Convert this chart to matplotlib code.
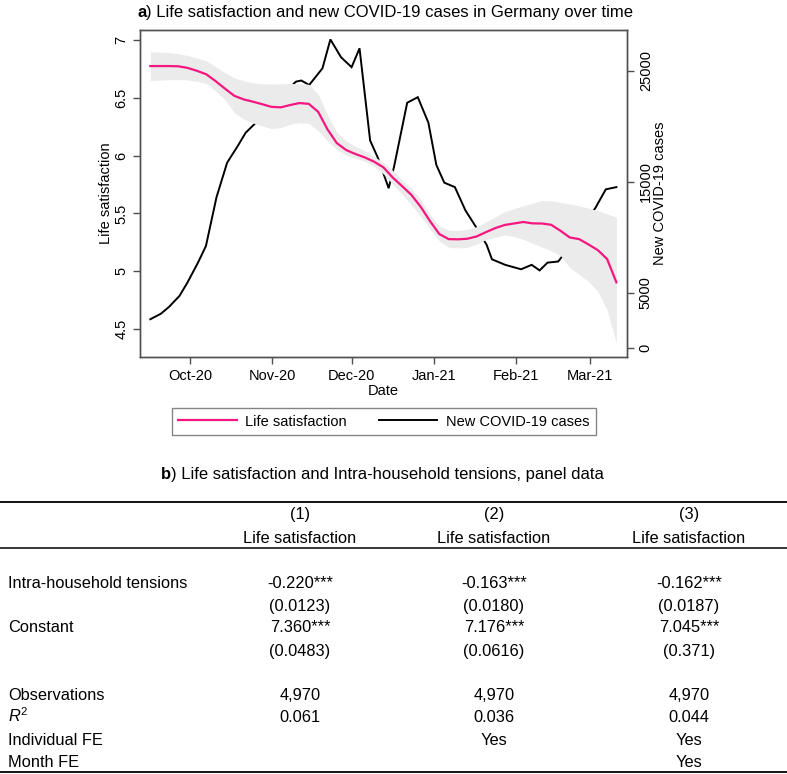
import matplotlib
matplotlib.use('Agg')
import matplotlib.pyplot as plt
import matplotlib.dates as mdates
from matplotlib.lines import Line2D
import pandas as pd

plt.rcParams['font.family'] = ['Liberation Sans', 'DejaVu Sans']
plt.rcParams['mathtext.fontset'] = 'custom'
plt.rcParams['mathtext.rm'] = 'Liberation Sans'
plt.rcParams['mathtext.it'] = 'Liberation Sans:italic'

# ---- panel a: life satisfaction (twice-weekly) with confidence band ----
ls_dates = pd.date_range('2020-09-16', '2021-03-11', periods=51)
ls_mean = [6.775, 6.775, 6.775, 6.773, 6.759, 6.734, 6.704, 6.645, 6.580, 6.518,
           6.487, 6.467, 6.445, 6.422, 6.418, 6.438, 6.455, 6.448, 6.380, 6.228,
           6.109, 6.049, 6.014, 5.985, 5.948, 5.899, 5.811, 5.737, 5.661, 5.558,
           5.434, 5.322, 5.278, 5.276, 5.281, 5.301, 5.338, 5.373, 5.400, 5.413,
           5.426, 5.414, 5.413, 5.402, 5.350, 5.292, 5.278, 5.232, 5.183, 5.106,
           4.904]
ls_upper = [6.899, 6.895, 6.892, 6.882, 6.866, 6.844, 6.820, 6.770, 6.719, 6.673,
            6.648, 6.631, 6.622, 6.619, 6.621, 6.625, 6.622, 6.618, 6.533, 6.353,
            6.202, 6.127, 6.081, 6.042, 5.993, 5.941, 5.872, 5.792, 5.715, 5.622,
            5.491, 5.392, 5.356, 5.352, 5.362, 5.386, 5.427, 5.470, 5.515, 5.542,
            5.566, 5.587, 5.614, 5.610, 5.595, 5.582, 5.567, 5.546, 5.524, 5.494,
            5.469]
ls_lower = [6.648, 6.653, 6.657, 6.658, 6.655, 6.643, 6.626, 6.560, 6.484, 6.374,
            6.317, 6.282, 6.258, 6.233, 6.244, 6.273, 6.285, 6.279, 6.216, 6.128,
            6.055, 6.005, 5.976, 5.952, 5.907, 5.842, 5.753, 5.667, 5.575, 5.475,
            5.368, 5.263, 5.206, 5.201, 5.207, 5.234, 5.274, 5.294, 5.313, 5.301,
            5.276, 5.243, 5.210, 5.177, 5.136, 5.029, 4.975, 4.913, 4.827, 4.663,
            4.379]

# ---- panel a: new COVID-19 cases ----
case_dates = pd.to_datetime([
    '2020-09-16', '2020-09-20', '2020-09-23', '2020-09-27', '2020-09-30',
    '2020-10-04', '2020-10-07', '2020-10-11', '2020-10-15', '2020-10-19',
    '2020-10-22', '2020-10-25', '2020-10-29', '2020-11-02', '2020-11-06',
    '2020-11-10', '2020-11-12', '2020-11-15', '2020-11-20', '2020-11-23',
    '2020-11-27', '2020-12-01', '2020-12-04', '2020-12-08', '2020-12-11',
    '2020-12-15', '2020-12-17', '2020-12-22', '2020-12-26', '2020-12-30',
    '2021-01-02', '2021-01-05', '2021-01-09', '2021-01-13', '2021-01-17',
    '2021-01-21', '2021-01-23', '2021-01-28', '2021-02-03', '2021-02-07',
    '2021-02-10', '2021-02-13', '2021-02-17', '2021-02-22', '2021-02-26',
    '2021-03-03', '2021-03-07', '2021-03-11'])
new_cases = [2600, 3100, 3700, 4700, 5900, 7700, 9200, 13600, 16700, 18200,
             19400, 20100, 21000, 22100, 23100, 24000, 24100, 23700, 25200, 27800,
             26200, 25300, 27000, 18700, 17100, 14400, 16300, 22100, 22600, 20300,
             16500, 14900, 14500, 12400, 10900, 9300, 8000, 7500, 7100, 7500,
             7000, 7700, 7800, 9300, 10900, 12600, 14300, 14500]

# ---- panel b: regression table ----
col_heads = ['(1)', '(2)', '(3)']
dep_var = 'Life satisfaction'
coef_tensions = ['-0.220***', '-0.163***', '-0.162***']
se_tensions = ['0.0123', '0.0180', '0.0187']
coef_const = ['7.360***', '7.176***', '7.045***']
se_const = ['0.0483', '0.0616', '0.371']
n_obs = ['4,970', '4,970', '4,970']
r_squared = ['0.061', '0.036', '0.044']
individual_fe = ['', 'Yes', 'Yes']
month_fe = ['', '', 'Yes']

W, H = 787, 774
fig = plt.figure(figsize=(W / 100, H / 100), dpi=100)

def fx(px):
    return px / W

def fy(py):
    return 1 - py / H

pink = '#f5167f'
frame = '#505050'

ax = fig.add_axes([fx(140), fy(357), fx(627) - fx(140), fy(30) - fy(357)])
ax2 = ax.twinx()
ax.set_zorder(2)
ax.patch.set_visible(False)

ax2.plot(case_dates, new_cases, color='black', lw=1.4, solid_joinstyle='miter')
ax.fill_between(ls_dates, ls_lower, ls_upper, color='#ebebeb', lw=0)
ax.plot(ls_dates, ls_mean, color=pink, lw=1.6)

ax.set_xlim(pd.Timestamp('2020-10-01') - pd.Timedelta(days=18.9),
            pd.Timestamp('2021-03-01') + pd.Timedelta(days=14))
ax.set_ylim(4.258, 7.087)
ax2.set_ylim(-800, 28650)

ax.set_yticks([4.5, 5, 5.5, 6, 6.5, 7])
ax.set_yticklabels(['4.5', '5', '5.5', '6', '6.5', '7'])
ax2.set_yticks([0, 5000, 15000, 25000])
ax.xaxis.set_major_locator(mdates.MonthLocator())
ax.xaxis.set_major_formatter(mdates.DateFormatter('%b-%y'))

for a in (ax, ax2):
    for s in a.spines.values():
        s.set_color(frame)
        s.set_linewidth(1.0)
    a.tick_params(colors=frame, labelcolor='black', direction='out', length=5,
                  width=1.0, labelsize=10.5)
ax.tick_params(axis='y', labelrotation=90)
ax2.tick_params(axis='y', labelrotation=90)
for lab in ax.get_yticklabels() + ax2.get_yticklabels():
    lab.set_va('center')

ax.set_ylabel('Life satisfaction', fontsize=10.5)
ax.yaxis.set_label_coords((113 - 140) / 487, 0.5)
ax2.set_ylabel('New COVID-19 cases', fontsize=10.5)
ax2.yaxis.set_label_coords((653 - 140) / 487, 0.5)
ax.set_xlabel('Date', fontsize=10.5)
ax.xaxis.set_label_coords(0.5, (357 - 384) / 327)

handles = [Line2D([], [], color=pink, lw=1.6), Line2D([], [], color='black', lw=1.4)]
leg = fig.legend(handles, ['Life satisfaction', 'New COVID-19 cases'], ncol=2,
                 loc='center', bbox_to_anchor=(fx(384), fy(421.5)), fontsize=10.5,
                 frameon=True, fancybox=False, edgecolor='#666666',
                 handlelength=4.0, handletextpad=0.6, columnspacing=2.2,
                 borderpad=0.45)
leg.get_frame().set_linewidth(1.0)

# titles with bold panel letter
ta = fig.text(fx(137), fy(17), 'a', fontsize=12, fontweight='bold', ha='left', va='baseline')
tb = fig.text(fx(161), fy(479), 'b', fontsize=12, fontweight='bold', ha='left', va='baseline')
fig.canvas.draw()
fig.text(ta.get_window_extent().x1 / W, fy(17),
         ') Life satisfaction and new COVID-19 cases in Germany over time',
         fontsize=12, ha='left', va='baseline')
fig.text(tb.get_window_extent().x1 / W, fy(479),
         ') Life satisfaction and Intra-household tensions, panel data',
         fontsize=12, ha='left', va='baseline')

# table rules
for y_px, lw in [(502, 1.3), (548, 1.1), (772, 1.3)]:
    fig.add_artist(Line2D([0, 1], [fy(y_px), fy(y_px)], color='black', lw=lw))

col_x = [300, 494, 689]
tsize = 11.8

def row(label, values, y_center):
    base = fy(y_center + 6)
    if label:
        fig.text(fx(8), base, label, fontsize=tsize, ha='left', va='baseline')
    for x, v in zip(col_x, values):
        if v:
            fig.text(fx(x), base, v, fontsize=tsize, ha='center', va='baseline')

row('', col_heads, 513)
row('', [dep_var] * 3, 537)
row('Intra-household tensions', coef_tensions, 582)
row('', ['(' + s + ')' for s in se_tensions], 605)
row('Constant', coef_const, 626)
row('', ['(' + s + ')' for s in se_const], 650)
row('Observations', n_obs, 694)
row(r'$R^2$', r_squared, 716)
row('Individual FE', individual_fe, 739)
row('Month FE', month_fe, 761)

fig.savefig('out.png', dpi=100)
